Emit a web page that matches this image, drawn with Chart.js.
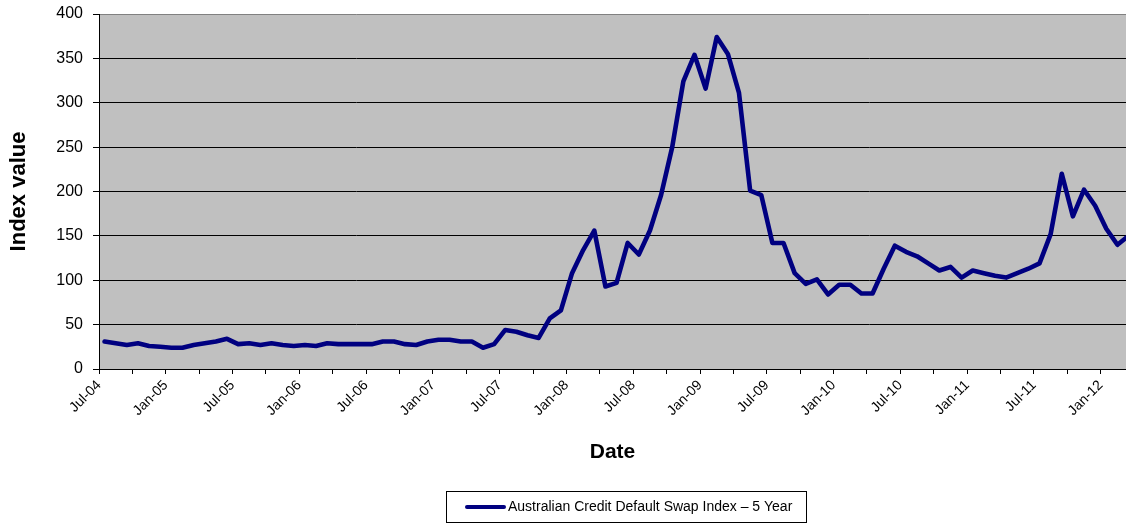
<!DOCTYPE html>
<html>
<head>
<meta charset="utf-8">
<script src="https://cdn.jsdelivr.net/npm/chart.js@4/dist/chart.umd.min.js"></script>
<style>
  html, body { margin: 0; padding: 0; background: #ffffff; }
  #wrap { width: 1126px; height: 523px; }
</style>
</head>
<body>
<div id="wrap"><canvas id="cds" width="1126" height="523"></canvas></div>
<script>
// Monthly observations, Jul-04 .. Mar-12
const months = [
  'Jul-04','Aug-04','Sep-04','Oct-04','Nov-04','Dec-04',
  'Jan-05','Feb-05','Mar-05','Apr-05','May-05','Jun-05','Jul-05','Aug-05','Sep-05','Oct-05','Nov-05','Dec-05',
  'Jan-06','Feb-06','Mar-06','Apr-06','May-06','Jun-06','Jul-06','Aug-06','Sep-06','Oct-06','Nov-06','Dec-06',
  'Jan-07','Feb-07','Mar-07','Apr-07','May-07','Jun-07','Jul-07','Aug-07','Sep-07','Oct-07','Nov-07','Dec-07',
  'Jan-08','Feb-08','Mar-08','Apr-08','May-08','Jun-08','Jul-08','Aug-08','Sep-08','Oct-08','Nov-08','Dec-08',
  'Jan-09','Feb-09','Mar-09','Apr-09','May-09','Jun-09','Jul-09','Aug-09','Sep-09','Oct-09','Nov-09','Dec-09',
  'Jan-10','Feb-10','Mar-10','Apr-10','May-10','Jun-10','Jul-10','Aug-10','Sep-10','Oct-10','Nov-10','Dec-10',
  'Jan-11','Feb-11','Mar-11','Apr-11','May-11','Jun-11','Jul-11','Aug-11','Sep-11','Oct-11','Nov-11','Dec-11',
  'Jan-12','Feb-12','Mar-12'
];

// Index value for each month
const indexValues = [
  31, 29, 27, 29, 26, 25,
  24, 24, 27, 29, 31, 34, 28, 29, 27, 29, 27, 26,
  27, 26, 29, 28, 28, 28, 28, 31, 31, 28, 27, 31,
  33, 33, 31, 31, 24, 28, 44, 42, 38, 35, 57, 66,
  108, 134, 156, 93, 97, 142, 129, 156, 196, 250, 324, 354,
  316, 374, 355, 311, 201, 196, 142, 142, 108, 96, 101, 84,
  95, 95, 85, 85, 113, 139, 132, 127, 119, 111, 115, 103,
  111, 108, 105, 103, 108, 113, 119, 152, 220, 172, 202, 184,
  158, 140, 150
];

const seriesLabel = 'Australian Credit Default Swap Index \u2013 5 Year';
const yAxisTitle = 'Index value';
const xAxisTitle = 'Date';
const yTickValues = [0, 50, 100, 150, 200, 250, 300, 350, 400];

const FONT = "'Liberation Sans', Arial, sans-serif";

// Each month occupies one slot; its point sits in the middle of the slot
const points = indexValues.map((v, i) => ({ x: i + 0.5, y: v }));

// Grey plot area
const plotBackground = {
  id: 'plotBackground',
  beforeDraw(chart) {
    const { ctx, chartArea: a } = chart;
    ctx.save();
    ctx.fillStyle = '#c0c0c0';
    ctx.fillRect(a.left, a.top, a.right - a.left, a.bottom - a.top);
    ctx.restore();
  }
};

// Boxed legend under the axis title
const boxedLegend = {
  id: 'boxedLegend',
  afterDraw(chart, args, opts) {
    const { ctx } = chart;
    const ds = chart.data.datasets[0];
    ctx.save();
    ctx.strokeStyle = '#000000';
    ctx.lineWidth = 1;
    ctx.strokeRect(opts.x + 0.5, opts.y + 0.5, opts.w, opts.h);
    const cy = opts.y + opts.h / 2 + 0.5;
    ctx.strokeStyle = ds.borderColor;
    ctx.lineWidth = 4;
    ctx.lineCap = 'round';
    ctx.beginPath();
    ctx.moveTo(opts.x + 21, cy);
    ctx.lineTo(opts.x + 58, cy);
    ctx.stroke();
    ctx.fillStyle = '#000000';
    ctx.font = '14px ' + FONT;
    ctx.textBaseline = 'middle';
    ctx.textAlign = 'left';
    ctx.fillText(ds.label, opts.x + 62, cy);
    ctx.restore();
  }
};

new Chart(document.getElementById('cds'), {
  type: 'line',
  data: {
    datasets: [{
      label: seriesLabel,
      data: points,
      borderColor: '#000080',
      backgroundColor: '#000080',
      borderWidth: 4.6,
      borderJoinStyle: 'round',
      borderCapStyle: 'round',
      pointRadius: 0,
      tension: 0,
      fill: false
    }]
  },
  options: {
    responsive: false,
    animation: false,
    devicePixelRatio: 1,
    layout: { padding: { top: 14, right: 0, bottom: 54, left: 0 } },
    plugins: {
      legend: { display: false },
      tooltip: { enabled: false },
      boxedLegend: { x: 446, y: 491, w: 360, h: 31 }
    },
    scales: {
      x: {
        type: 'linear',
        min: 0,
        max: 92.27,
        afterFit(scale) { scale.height = 100; },
        grid: {
          drawOnChartArea: false,
          drawTicks: true,
          tickLength: 5,
          color: '#000000'
        },
        border: { display: true, color: '#000000', width: 1 },
        ticks: {
          stepSize: 3,
          autoSkip: false,
          includeBounds: false,
          minRotation: 45,
          maxRotation: 45,
          padding: 3,
          color: '#000000',
          font: { family: FONT, size: 14 },
          callback: (v) => (v % 6 === 0 ? months[v] : '')
        },
        title: {
          display: true,
          text: xAxisTitle,
          color: '#000000',
          font: { family: FONT, size: 21, weight: 'bold' },
          padding: { top: 0, bottom: 4 },
          align: 'center'
        }
      },
      y: {
        type: 'linear',
        min: 0,
        max: 400,
        afterFit(scale) {
          scale.width = 99;
          // top/bottom labels may overhang the plot edge slightly
          scale.paddingTop = 4;
          scale.paddingBottom = 4;
        },
        afterBuildTicks(scale) { scale.ticks = yTickValues.map(v => ({ value: v })); },
        grid: {
          drawTicks: true,
          tickLength: 6,
          lineWidth: 1,
          color: (c) => (c.tick && c.tick.value === 400 ? '#808080' : '#000000'),
          tickColor: '#000000'
        },
        border: { display: true, color: '#000000', width: 1 },
        ticks: {
          padding: 10,
          color: '#000000',
          font: { family: FONT, size: 16 }
        },
        title: {
          display: true,
          text: yAxisTitle,
          color: '#000000',
          font: { family: FONT, size: 22, weight: 'bold' },
          padding: { top: 6, bottom: 0 }
        }
      }
    }
  },
  plugins: [plotBackground, boxedLegend]
});
</script>
</body>
</html>
